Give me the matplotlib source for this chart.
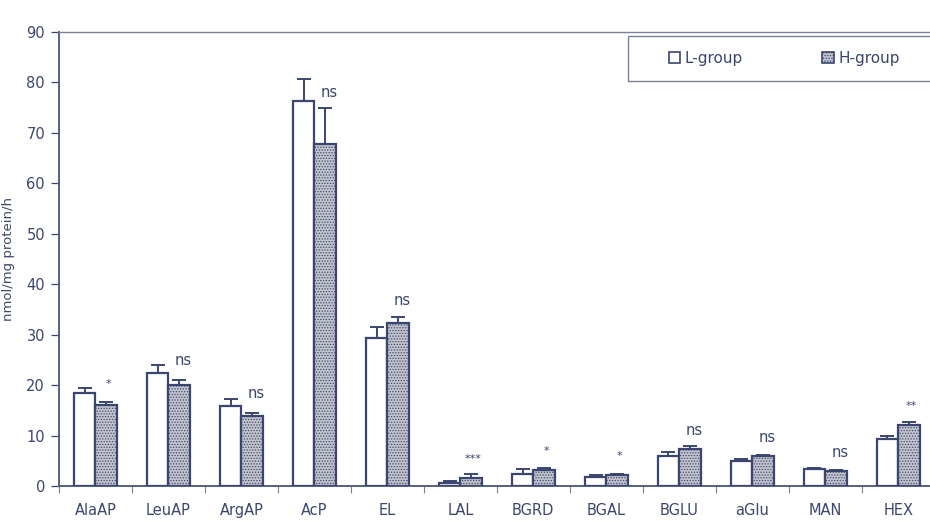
import matplotlib
matplotlib.use("Agg")
import matplotlib.pyplot as plt
import numpy as np
from matplotlib.patches import Patch, Rectangle

categories = ["AlaAP", "LeuAP", "ArgAP", "AcP", "EL", "LAL", "BGRD", "BGAL",
              "BGLU", "aGlu", "MAN", "HEX"]
l_group = [18.5, 22.5, 15.9, 76.3, 29.3, 0.5, 2.4, 1.7, 6.0, 4.9, 3.3, 9.4]
l_err = [1.0, 1.5, 1.4, 4.3, 2.3, 0.5, 0.9, 0.4, 0.7, 0.5, 0.2, 0.6]
h_group = [16.0, 20.1, 13.9, 67.7, 32.3, 1.5, 3.1, 2.1, 7.4, 5.9, 3.0, 12.0]
h_err = [0.7, 1.0, 0.6, 7.3, 1.3, 0.9, 0.4, 0.3, 0.5, 0.2, 0.1, 0.6]
signif = ["*", "ns", "ns", "ns", "ns", "***", "*", "*", "ns", "ns", "ns", "**"]
signif_y = [19.2, 23.4, 16.8, 76.6, 35.2, 4.3, 5.9, 4.9, 9.6, 8.1, 5.2, 14.8]
yticks = [0, 10, 20, 30, 40, 50, 60, 70, 80, 90]

ink = "#3b4670"
dots = "#c4c4cc"
plt.rcParams["hatch.color"] = "#8a8c99"
plt.rcParams["hatch.linewidth"] = 0.6

W, H = 930, 521
fig = plt.figure(figsize=(W / 100, H / 100), dpi=100)
ax = fig.add_axes([59 / W, 1 - 486 / H, 1 - 59 / W + 0.005, 454 / H])

x = np.arange(len(categories))
w = 0.295
ax.bar(x - w / 2, l_group, w, facecolor="white", edgecolor=ink, linewidth=1.6,
       yerr=[np.zeros(len(l_err)), l_err], ecolor=ink,
       error_kw=dict(elinewidth=1.4, capsize=5, capthick=1.4), zorder=3)
ax.bar(x + w / 2, h_group, w, facecolor=dots, edgecolor=ink, linewidth=1.6,
       hatch="......", yerr=[np.zeros(len(h_err)), h_err], ecolor=ink,
       error_kw=dict(elinewidth=1.4, capsize=5, capthick=1.4), zorder=3)

for xi, s, sy in zip(x, signif, signif_y):
    if s == "ns":
        ax.text(xi + w / 2 + 0.06, sy, s, ha="center", va="bottom",
                fontsize=10.5, color=ink)
    else:
        ax.text(xi + w / 2 + 0.03, sy, s, ha="center", va="bottom",
                fontsize=8, color=ink)

ax.set_xlim(-0.5, 11.43)
ax.set_ylim(0, 90)
ax.set_yticks(yticks)
ax.set_xticks(x)
ax.set_xticklabels(categories)
ax.set_xticks(np.arange(-0.5, 12, 1.0), minor=True)
ax.tick_params(axis="x", which="major", length=0, pad=12, labelsize=10.5,
               colors=ink)
ax.tick_params(axis="x", which="minor", length=5, width=0.8, colors="#7a7f95",
               direction="out")
ax.tick_params(axis="y", length=6, width=0.9, labelsize=10.5, colors=ink,
               direction="out", pad=4)
ax.set_ylabel("nmol/mg protein/h", fontsize=9.5, color=ink)
ax.yaxis.set_label_coords((15 - 59) / 871, 0.5)

for side in ("left", "bottom"):
    ax.spines[side].set_color("#55607f")
    ax.spines[side].set_linewidth(1.4)
ax.spines["top"].set_color("#7a809a")
ax.spines["top"].set_linewidth(1.0)
ax.spines["right"].set_visible(False)

# legend box running off the right edge
fig.patches.append(Rectangle((628 / W, 1 - 81 / H), (W - 628 + 10) / W, 45 / H,
                             transform=fig.transFigure, facecolor="white",
                             edgecolor="#7a809a", linewidth=1.0, zorder=5))
handles = [Patch(facecolor="white", edgecolor=ink, linewidth=1.2, label="L-group"),
           Patch(facecolor=dots, edgecolor=ink, linewidth=1.2, hatch="......",
                 label="H-group")]
leg = fig.legend(handles=handles, ncol=2, loc="center left",
                 bbox_to_anchor=(661 / W, 1 - 58.5 / H), fontsize=11,
                 frameon=False, handlelength=0.75, handleheight=0.75,
                 handletextpad=0.3, columnspacing=5.2, borderpad=0.0,
                 labelcolor=ink)
leg.set_zorder(6)

fig.savefig("out.png", dpi=100)
